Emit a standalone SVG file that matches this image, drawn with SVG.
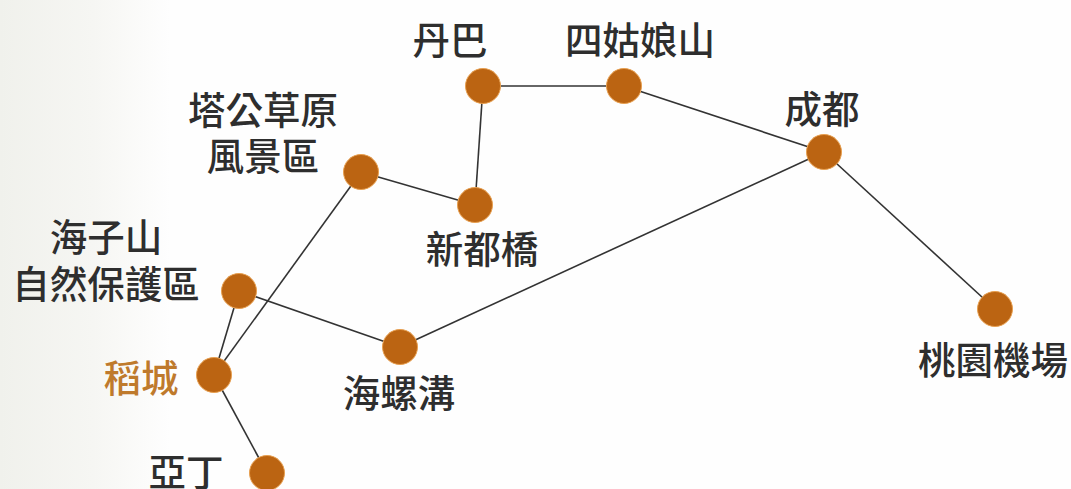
<svg xmlns="http://www.w3.org/2000/svg" width="1071" height="489" viewBox="0 0 1071 489">
<style>
.l{font-family:"Noto Sans CJK TC","Liberation Sans",sans-serif;font-size:37.5px;font-weight:500;fill:#2e2e2e;text-anchor:middle}
.o{fill:#bf7a2c}
.n{fill:#bb6412;stroke:#e8a050;stroke-width:1}
#connectors line{stroke:#333;stroke-width:1.6}
</style>
<defs>
<linearGradient id="bg" x1="0" y1="0" x2="1" y2="0">
<stop offset="0" stop-color="#f0f1ec"/>
<stop offset="0.55" stop-color="#f6f6f3"/>
<stop offset="1" stop-color="#fefefe"/>
</linearGradient>
</defs>
<rect width="1071" height="489" fill="#fefefe"/>
<rect x="0" y="0" width="170" height="489" fill="url(#bg)"/>
<g id="connectors">
<line x1="483" y1="86" x2="624" y2="86"/>
<line x1="483" y1="86" x2="475" y2="205"/>
<line x1="624" y1="86" x2="824" y2="152"/>
<line x1="824" y1="152" x2="995" y2="309"/>
<line x1="824" y1="152" x2="400" y2="347"/>
<line x1="361" y1="172" x2="475" y2="205"/>
<line x1="361" y1="172" x2="214" y2="375"/>
<line x1="239" y1="291" x2="400" y2="347"/>
<line x1="239" y1="291" x2="214" y2="375"/>
<line x1="214" y1="375" x2="267" y2="473"/>
</g>
<g id="danba"><circle class="n" cx="483" cy="86" r="17.5"/><text class="l" x="450" y="54">丹巴</text></g>
<g id="siguniang"><circle class="n" cx="624" cy="86" r="17.5"/><text class="l" x="640" y="54">四姑娘山</text></g>
<g id="chengdu"><circle class="n" cx="824" cy="152" r="17.5"/><text class="l" x="822" y="123">成都</text></g>
<g id="taoyuan"><circle class="n" cx="995" cy="309" r="17.5"/><text class="l" x="993" y="374">桃園機場</text></g>
<g id="tagong"><circle class="n" cx="361" cy="172" r="17.5"/><text class="l" x="263" y="124">塔公草原<tspan x="263" dy="46">風景區</tspan></text></g>
<g id="xinduqiao"><circle class="n" cx="475" cy="205" r="17.5"/><text class="l" x="482" y="263">新都橋</text></g>
<g id="haizishan"><circle class="n" cx="239" cy="291" r="17.5"/><text class="l" x="106" y="251">海子山<tspan x="106" dy="47">自然保護區</tspan></text></g>
<g id="hailuogou"><circle class="n" cx="400" cy="347" r="17.5"/><text class="l" x="399" y="407">海螺溝</text></g>
<g id="daocheng"><circle class="n" cx="214" cy="375" r="17.5"/><text class="l o" x="141" y="392">稻城</text></g>
<g id="yading"><circle class="n" cx="267" cy="473" r="17.5"/><text class="l" x="186" y="486">亞丁</text></g>
</svg>
